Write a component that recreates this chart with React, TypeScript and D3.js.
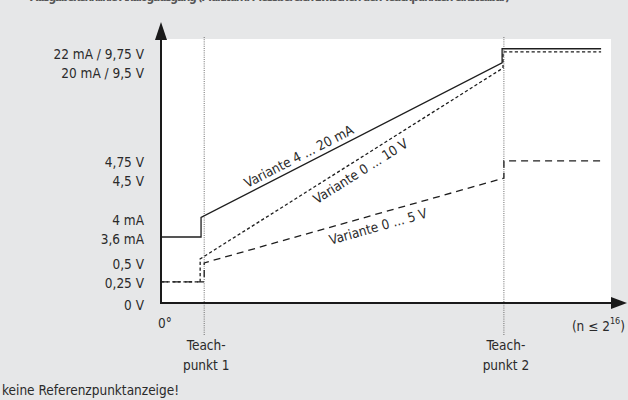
import React from 'react';
import * as d3 from 'd3';

// schematic units: x = 0..100 along the position axis, y = 0..100 of the axis height
const tickLabels = ['22 mA / 9,75 V', '20 mA / 9,5 V', '4,75 V', '4,5 V', '4 mA', '3,6 mA', '0,5 V', '0,25 V', '0 V'];
const tickLevels = [94.3, 87.1, 53.4, 46.2, 31.4, 24.2, 14.8, 7.6, -0.8];

const teachX = [9.6, 76.2];
const teachLabels = [['Teach-', 'punkt 1'], ['Teach-', 'punkt 2']];

const curve4to20: [number, number][] = [[0, 25], [8.9, 25], [8.9, 32.4], [75.8, 91], [75.8, 96.3], [97.8, 96.3]];
const curve0to10: [number, number][] = [[0, 8], [8.7, 8], [8.7, 16.7], [76.0, 89], [76.0, 95.1], [97.8, 95.1]];
const curve0to5: [number, number][] = [[0, 8], [9.6, 8], [9.6, 15.2], [76.2, 47.3], [76.2, 53.8], [97.8, 53.8]];

const curveNames = ['Variante 4 ... 20 mA', 'Variante 0 ... 10 V', 'Variante 0 ... 5 V'];
// where along each ramp the label sits, and its offset from the line (px)
const curveLabelX = [31.6, 43.0, 47.5];
const curveLabelOffset = [-10, 11, 12];

const W = 628;
const H = 400;
const FONT = '"Liberation Sans Narrow", "DejaVu Sans Condensed", Arial, sans-serif';
const INK = '#2a2a2a';

const App: React.FC = () => {
  const x = d3.scaleLinear().domain([0, 100]).range([161, 611]);
  const y = d3.scaleLinear().domain([0, 100]).range([303, 39]);

  const line = d3.line<[number, number]>()
    .x(d => x(d[0]))
    .y(d => y(d[1]));

  const curves = [curve4to20, curve0to10, curve0to5];
  const dashes = [undefined, '3.2,2.4', '7,5'];

  // label placement along the ramp segment (points 2 -> 3)
  const labelPos = curves.map((c, i) => {
    const [x0, y0] = c[2];
    const [x1, y1] = c[3];
    const px0 = x(x0), py0 = y(y0), px1 = x(x1), py1 = y(y1);
    const ang = Math.atan2(py1 - py0, px1 - px0);
    const t = (curveLabelX[i] - x0) / (x1 - x0);
    return {
      x: px0 + (px1 - px0) * t,
      y: py0 + (py1 - py0) * t,
      off: curveLabelOffset[i],
      deg: (ang * 180) / Math.PI,
    };
  });

  return (
    <svg width={W} height={H} style={{ position: 'absolute', left: 0, top: 0 }} fontFamily={FONT}>
      <rect x={0} y={0} width={W} height={H} fill="#e6e7e8" />
      {/* title, cut off at the top edge in the original */}
      <text x={30} y={0.5} fontSize={12} fontWeight="bold" fill="#555" textLength={480}>
        Ausgabekennlinie Analogausgang (Multiturn: Messbereich zwischen den Teachpunkten einstellbar)
      </text>
      <rect x={x(0)} y={y(100)} width={x(100) - x(0)} height={y(0) - y(100)} fill="#ffffff" />

      {teachX.map((t, i) => (
        <g key={i}>
          <line x1={x(t)} x2={x(t)} y1={37} y2={335} stroke="#6d6d6d" strokeWidth={1} strokeDasharray="1,1.2" />
          {teachLabels[i].map((s, j) => (
            <text key={j} x={x(t) + 2} y={345 + j * 20} textAnchor="middle" dominantBaseline="central" fontSize={13.5} fill={INK}>
              {s}
            </text>
          ))}
        </g>
      ))}

      {curves.map((c, i) => (
        <path key={i} d={line(c) || ''} fill="none" stroke="#1e1e1e" strokeWidth={1.3} strokeDasharray={dashes[i]} />
      ))}

      {labelPos.map((p, i) => (
        <g key={i} transform={`translate(${p.x},${p.y}) rotate(${p.deg})`}>
          <text x={0} y={p.off} textAnchor="middle" dominantBaseline="central" fontSize={13.5} fill={INK}>
            {curveNames[i]}
          </text>
        </g>
      ))}

      {/* axes */}
      <line x1={x(0)} x2={x(0)} y1={y(0) + 1} y2={38} stroke="#1a1a1a" strokeWidth={2} />
      <path d={`M${x(0)},22 L${x(0) - 6},40 L${x(0) + 6},40 Z`} fill="#1a1a1a" />
      <line x1={x(0) - 1} x2={613} y1={y(0)} y2={y(0)} stroke="#1a1a1a" strokeWidth={2} />
      <path d={`M627,${y(0)} L611,${y(0) - 6} L611,${y(0) + 6} Z`} fill="#1a1a1a" />

      {tickLabels.map((s, i) => (
        <text key={i} x={144} y={y(tickLevels[i])} textAnchor="end" dominantBaseline="central" fontSize={13.5} fill={INK}>
          {s}
        </text>
      ))}

      <text x={158} y={323} dominantBaseline="central" fontSize={13.5} fill={INK}>0°</text>
      <text x={625} y={326} textAnchor="end" dominantBaseline="central" fontSize={13.5} fill={INK}>
        (n ≤ 2<tspan dy={-5} fontSize={9}>16</tspan><tspan dy={5}>)</tspan>
      </text>
      <text x={2} y={390} dominantBaseline="central" fontSize={13.5} fill={INK}>keine Referenzpunktanzeige!</text>
    </svg>
  );
};

export default App;
